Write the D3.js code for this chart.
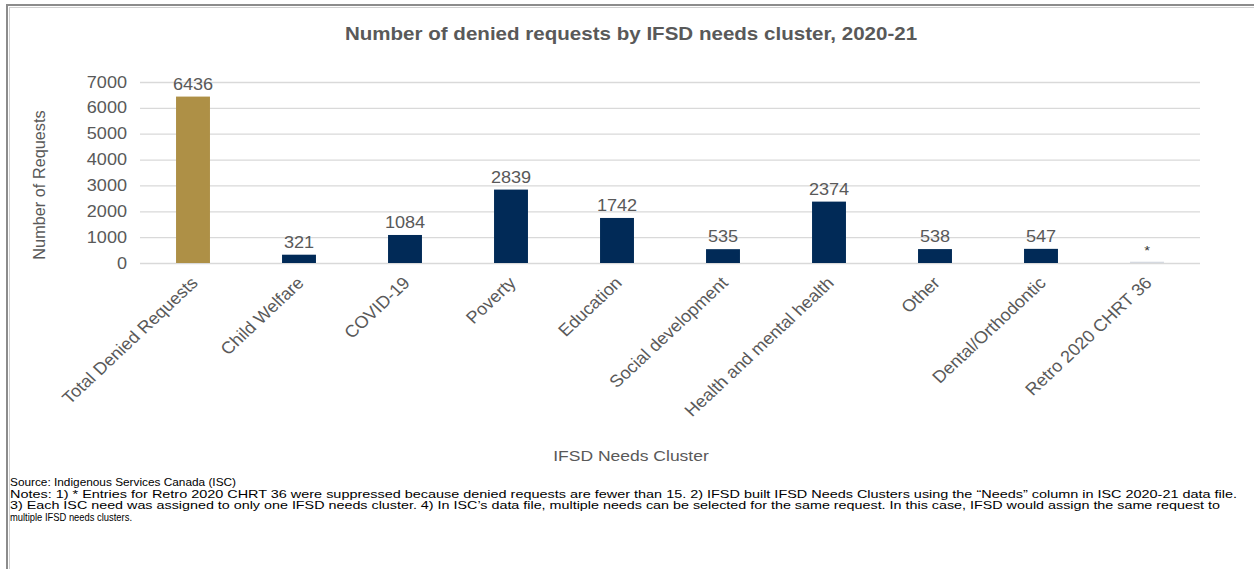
<!DOCTYPE html>
<html>
<head>
<meta charset="utf-8">
<script src="https://cdn.jsdelivr.net/npm/d3@7"></script>
<style>
  html, body { margin: 0; padding: 0; background: #fff; }
  svg { display: block; font-family: "Liberation Sans", Arial, sans-serif; }
</style>
</head>
<body>
<svg id="chart" width="1254" height="569"></svg>
<script>
const categories = ["Total Denied Requests", "Child Welfare", "COVID-19", "Poverty", "Education",
  "Social development", "Health and mental health", "Other", "Dental/Orthodontic", "Retro 2020 CHRT 36"];
const values = [6436, 321, 1084, 2839, 1742, 535, 2374, 538, 547, 50];
const valueLabels = ["6436", "321", "1084", "2839", "1742", "535", "2374", "538", "547", "*"];
const yTicks = [0, 1000, 2000, 3000, 4000, 5000, 6000, 7000];
const title = "Number of denied requests by IFSD needs cluster, 2020-21";
const yTitle = "Number of Requests";
const xTitle = "IFSD Needs Cluster";
const notes = [
  "Source: Indigenous Services Canada (ISC)",
  "Notes: 1) * Entries for Retro 2020 CHRT 36 were suppressed because denied requests are fewer than 15. 2) IFSD built IFSD Needs Clusters using the \u201cNeeds\u201d column in ISC 2020-21 data file.",
  "3) Each ISC need was assigned to only one IFSD needs cluster. 4) In ISC\u2019s data file, multiple needs can be selected for the same request. In this case, IFSD would assign the same request to",
  "multiple IFSD needs clusters."
];
const noteWidths = [226, 1227, 1210, 122];

const svg = d3.select("#chart");
const textColor = "#595959";
const SX = 1.13; // horizontal stretch of text seen in the reference

// frame
svg.append("line").attr("x1", 6).attr("x2", 1254).attr("y1", 5).attr("y2", 5).attr("stroke", "#8c8c8c").attr("stroke-width", 2);
svg.append("line").attr("x1", 9).attr("x2", 1254).attr("y1", 7.5).attr("y2", 7.5).attr("stroke", "#d0d0d0").attr("stroke-width", 1);
svg.append("line").attr("x1", 7).attr("x2", 7).attr("y1", 4).attr("y2", 569).attr("stroke", "#8c8c8c").attr("stroke-width", 2);
svg.append("line").attr("x1", 9.5).attr("x2", 9.5).attr("y1", 7).attr("y2", 569).attr("stroke", "#d0d0d0").attr("stroke-width", 1);

const x = d3.scaleBand().domain(categories).range([140, 1200]).paddingInner(0.68).paddingOuter(0.34);
const y = d3.scaleLinear().domain([0, 7000]).range([263, 82]);

// gridlines + y tick labels
const yAxis = d3.axisLeft(y).tickValues(yTicks).tickSize(-(1200 - 140)).tickPadding(0).tickFormat(d3.format("d"));
const gy = svg.append("g").attr("transform", "translate(140,0)").call(yAxis);
gy.select(".domain").remove();
gy.selectAll(".tick line").attr("stroke", "#d9d9d9").attr("stroke-width", 1.3);
gy.selectAll(".tick text")
  .attr("fill", textColor)
  .attr("x", 0)
  .attr("transform", `translate(-13,0) scale(${SX},1)`)
  .style("font-size", "16px")
  .style("font-family", "Liberation Sans, Arial, sans-serif");

// bars
svg.append("g").selectAll("rect").data(categories).join("rect")
  .attr("x", d => x(d))
  .attr("width", x.bandwidth())
  .attr("y", (d, i) => y(values[i]))
  .attr("height", (d, i) => y(0) - y(values[i]))
  .attr("fill", (d, i) => i === 0 ? "#AE9046" : (i === categories.length - 1 ? "#d5d9e0" : "#012A57"));

// value labels
svg.append("g").selectAll("text").data(categories).join("text")
  .attr("transform", (d, i) => `translate(${x(d) + x.bandwidth() / 2},${y(values[i]) - 7}) scale(${SX},1)`)
  .attr("text-anchor", "middle")
  .attr("fill", (d, i) => i === categories.length - 1 ? "#333" : textColor)
  .style("font-size", (d, i) => i === categories.length - 1 ? "13px" : "16px")
  .text((d, i) => valueLabels[i]);

// x axis category labels
const xAxis = d3.axisBottom(x).tickSize(0).tickPadding(0);
const gx = svg.append("g").attr("transform", `translate(0,${y(0)})`).call(xAxis);
gx.select(".domain").remove();
gx.selectAll(".tick text")
  .attr("fill", textColor)
  .style("font-size", "17px")
  .style("font-family", "Liberation Sans, Arial, sans-serif")
  .attr("text-anchor", "end")
  .attr("dy", null)
  .attr("y", null)
  .attr("transform", "translate(6,21) scale(1.07,1) rotate(-45)");

// titles
svg.append("text").attr("transform", `translate(631,40) scale(${SX},1)`).attr("text-anchor", "middle")
  .attr("fill", textColor).style("font-size", "18.2px").style("font-weight", "bold").text(title);
svg.append("text").attr("transform", "translate(45,185) rotate(-90)").attr("text-anchor", "middle")
  .attr("fill", textColor).style("font-size", "16.3px").text(yTitle);
svg.append("text").attr("transform", `translate(631,461) scale(${SX},1)`).attr("text-anchor", "middle")
  .attr("fill", textColor).style("font-size", "15.5px").text(xTitle);

// notes
svg.append("g").selectAll("text").data(notes).join("text")
  .attr("x", 10)
  .attr("y", (d, i) => 486 + i * 11.5)
  .attr("fill", "#000")
  .attr("textLength", (d, i) => noteWidths[i])
  .attr("lengthAdjust", "spacingAndGlyphs")
  .style("font-size", "11px")
  .text(d => d);
</script>
</body>
</html>
